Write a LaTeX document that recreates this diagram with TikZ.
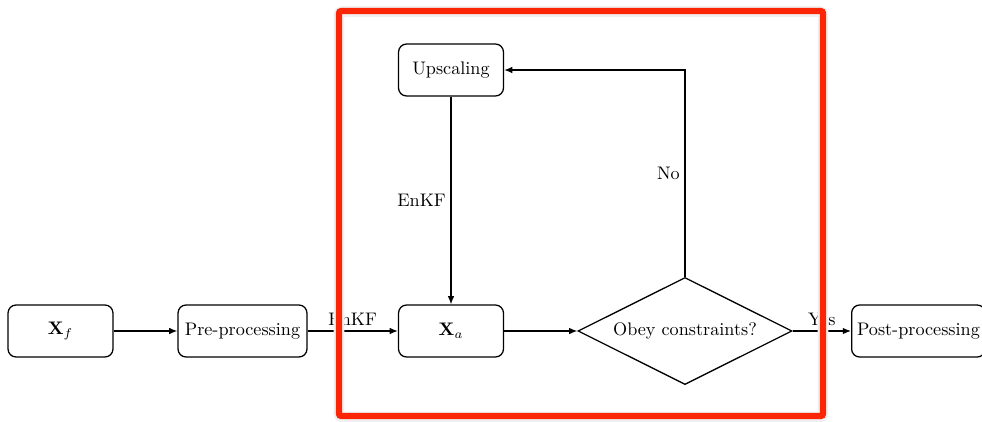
\documentclass[tikz,border=0pt]{standalone}
\usetikzlibrary{shapes.geometric,arrows.meta}
\definecolor{hlred}{RGB}{252,38,6}
\tikzset{
  box/.style={draw, line width=0.7pt, rounded corners=4.4pt, minimum width=57.7pt, minimum height=28.6pt, inner sep=1.5pt, align=center},
  decide/.style={draw, line width=0.7pt, shape=diamond, aspect=2, inner sep=0pt, minimum width=117.7pt, minimum height=58.9pt},
  arr/.style={line width=0.7pt, -{Latex[length=4.5pt,width=3.6pt]}},
  lbl/.style={inner sep=2.5pt}
}
\begin{document}
\begin{tikzpicture}[x=0.55pt,y=-0.55pt]
\useasboundingbox (0,0) rectangle (982,421);
\clip (0,0) rectangle (982,421);
\node[box] (xf) at (60.5,331) {$\mathbf{X}_f$};
\node[box, minimum width=70.9pt] (pre) at (242.5,331) {Pre-processing};
\node[box] (xa) at (451,331) {$\mathbf{X}_a$};
\node[box] (up) at (451,70) {Upscaling};
\node[decide] (dec) at (685,331) {Obey constraints?};
\node[box, minimum width=73.5pt, anchor=west] (post) at (851,331) {Post-processing};
\draw[arr] (xf) -- (pre);
\draw[arr] (pre) -- node[lbl,above]{EnKF} (xa);
\draw[arr] (xa) -- (dec);
\draw[arr] (dec) -- node[lbl,above]{Yes} (post);
\draw[arr] (dec.north) |- node[pos=0.25,left,lbl]{No} (up.east);
\draw[arr] (up) -- node[midway,left,lbl]{EnKF} (xa);
% highlight frame
\draw[black!6, line width=6pt, rounded corners=2pt] (339,11.5) rectangle (823,417);
\draw[hlred, line width=3.4pt, rounded corners=1.2pt] (339,11) rectangle (823,416);
\end{tikzpicture}
\end{document}
